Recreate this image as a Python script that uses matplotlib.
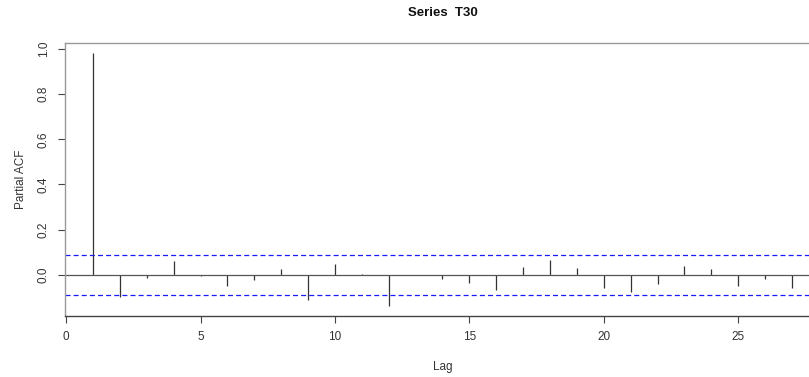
import matplotlib
matplotlib.use("Agg")
import matplotlib.pyplot as plt
import numpy as np

plt.rcParams['font.family'] = ['Liberation Sans', 'DejaVu Sans']

lags = list(range(1, 28))
pacf = [0.981, -0.099, -0.015, 0.060, -0.003, -0.050, -0.024, 0.027, -0.109,
        0.049, 0.003, -0.137, 0.0, -0.019, -0.035, -0.066, 0.037, 0.066,
        0.032, -0.058, -0.077, -0.041, 0.041, 0.024, -0.047, -0.016, -0.059]
conf = 0.087
xticks = [0, 5, 10, 15, 20, 25]
yticks = [0.0, 0.2, 0.4, 0.6, 0.8, 1.0]
title = "Series  T30"
xlabel = "Lag"
ylabel = "Partial ACF"

W, H = 809, 377
fig = plt.figure(figsize=(W / 100, H / 100), dpi=100)
left, right, top, bottom = 65, 820, 43, 316
ax = fig.add_axes([left / W, (H - bottom) / H, (right - left) / W, (bottom - top) / H])

ax.vlines(lags, 0, pacf, colors="#333333", linewidth=0.9)
ax.axhline(0, color="#555555", linewidth=0.9)
for c in (conf, -conf):
    ax.axhline(c, color="#1a1aff", linewidth=0.9, linestyle=(0, (4, 2.5)))

lo = min(min(pacf), -conf)
hi = max(max(pacf), conf)
pad = (hi - lo) * 0.04
ax.set_ylim(lo - pad, hi + pad)
x0, x1 = min(lags), max(lags)
xp = (x1 - x0) * 0.04
ax.set_xlim(x0 - xp, x1 + xp)

ax.set_xticks(xticks)
ax.set_xticklabels([str(t) for t in xticks])
ax.set_yticks(yticks)
ax.set_yticklabels([f"{t:.1f}" for t in yticks], rotation=90, va="center")

for s in ax.spines.values():
    s.set_color("#999999")
    s.set_linewidth(1.0)
ax.spines['bottom'].set_color("#444444")

ax.tick_params(axis="both", direction="out", length=5, width=0.8, color="#444444",
               labelsize=8.5, labelcolor="#333333")
ax.tick_params(axis="x", pad=6)
ax.tick_params(axis="y", pad=6)

ax.set_xlabel(xlabel, fontsize=8.5, color="#333333", labelpad=13)
ax.set_ylabel(ylabel, fontsize=8.5, color="#333333", labelpad=8)
fig.text((left + right) / 2 / W, 1 - 13 / H, title, ha="center", va="center",
         fontsize=9.5, fontweight="bold", color="#111111")

fig.savefig("out.png", dpi=100)
